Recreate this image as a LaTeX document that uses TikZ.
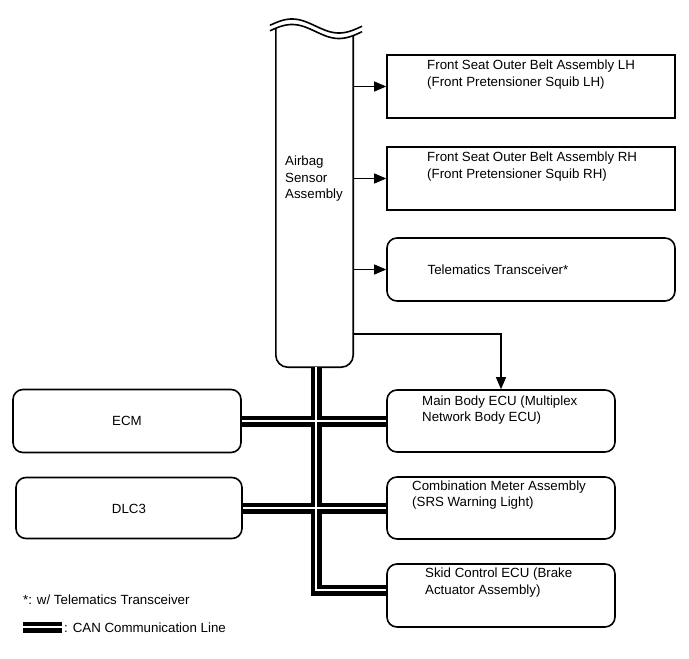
\documentclass[tikz,border=0pt]{standalone}
\usepackage{fontspec}
\setmainfont{Liberation Sans}
\usetikzlibrary{arrows.meta,calc}
\begin{document}
\begin{tikzpicture}[x=1pt,y=-1pt,
  box/.style={draw, line width=1.6pt, inner sep=0pt, minimum width=288pt, minimum height=63pt},
  rbox/.style={box, rounded corners=10pt},
  txt/.style={inner sep=0pt, align=left, anchor=west, font=\fontsize{13.3}{16.5}\selectfont},
  ctext/.style={inner sep=0pt, font=\fontsize{13.3}{16.5}\selectfont},
  sig/.style={line width=1.1pt, -{Triangle[length=12pt,width=10pt]}},
  canblack/.style={line width=11pt, black},
  canwhite/.style={line width=2.5pt, white},
  edge/.style={line width=1.6pt},
]
\useasboundingbox (0,0) rectangle (689,659);

% Airbag sensor assembly (open top, wavy break)
\node[inner sep=0pt, minimum width=77pt, minimum height=339pt] (ab) at (314.5,197.5) {};
\draw[edge] plot[domain=270:362, samples=60, smooth] (\x, {26-7*cos(3.8298*(\x-292))});
\draw[edge] plot[domain=270:362, samples=60, smooth] (\x, {31.5-7*cos(3.8298*(\x-292))});
\draw[edge, rounded corners=12pt] (ab.north west) -- (ab.south west) -- (ab.south east) -- ($(ab.north east)+(0,7.7)$);
\node[txt] (abt) at (285,179) {Airbag\\Sensor\\Assembly};

% right-hand boxes
\node[box] (lh) at (531,86.5) {};
\node[txt] at (427,74.5) {Front Seat Outer Belt Assembly LH\\(Front Pretensioner Squib LH)};
\node[box] (rh) at (531,178.5) {};
\node[txt] at (427,166.5) {Front Seat Outer Belt Assembly RH\\(Front Pretensioner Squib RH)};
\node[rbox] (tel) at (531,269.5) {};
\node[ctext] at (498,270) {Telematics Transceiver*};
\node[rbox, minimum width=228pt, minimum height=62pt] (mb) at (501,421) {};
\node[txt] at (422,410) {Main Body ECU (Multiplex\\Network Body ECU)};
\node[rbox, minimum width=228pt, minimum height=62pt] (cm) at (501,508) {};
\node[txt] at (412,495) {Combination Meter Assembly\\(SRS Warning Light)};
\node[rbox, minimum width=228pt, minimum height=63pt] (sk) at (501,595.5) {};
\node[txt] at (425,582.5) {Skid Control ECU (Brake\\Actuator Assembly)};

% left-hand boxes
\node[rbox, minimum width=228pt, minimum height=63pt] (ecm) at (127,421) {};
\node[ctext] at (127,421) {ECM};
\node[rbox, minimum width=226pt, minimum height=61pt] (dlc) at (129,508) {};
\node[ctext] at (129,509) {DLC3};

% signal arrows
\draw[sig] (ab.east |- lh.west) -- (lh.west);
\draw[sig] (ab.east |- rh.west) -- (rh.west);
\draw[sig] (ab.east |- tel.west) -- (tel.west);
\coordinate (mbsrc) at (ab.east |- 0,334);
\draw[sig] (mbsrc) -| (mb.north);

% CAN lines
\coordinate (tt) at (316,367);
\coordinate (ske) at ([yshift=5.5pt]sk.west);
\draw[canblack] (tt) -- (tt |- ske) -- (ske);
\draw[canblack] (ecm.east) -- (mb.west);
\draw[canblack] (dlc.east) -- (cm.west);
\draw[canwhite] (tt) -- (tt |- ske) -- (ske);
\draw[canwhite] (ecm.east) -- (mb.west);
\draw[canwhite] (dlc.east) -- (cm.west);

% legend
\node[ctext, anchor=west] (note) at (23,600) {*: w/ Telematics Transceiver};
\coordinate (lg1) at (23,627);
\coordinate (lg2) at (62,627);
\draw[canblack] (lg1) -- (lg2);
\draw[canwhite] (lg1) -- (lg2);
\node[ctext, anchor=west] (canlbl) at (64,628) {: CAN Communication Line};
\end{tikzpicture}
\end{document}
